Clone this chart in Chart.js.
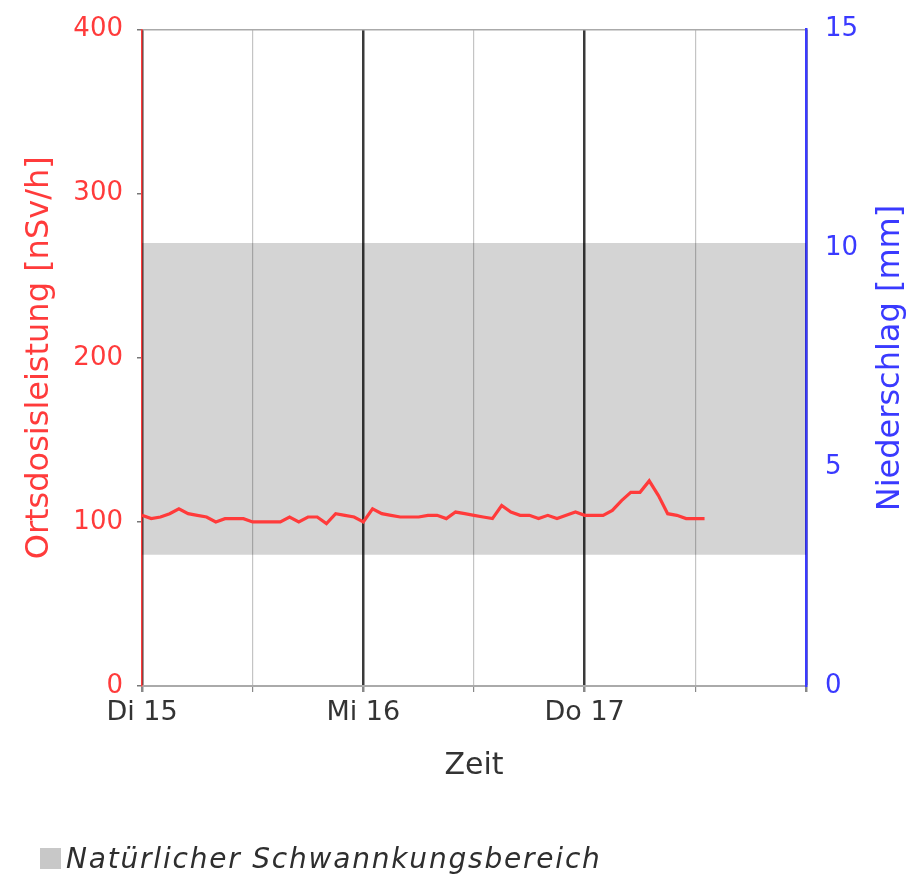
<!DOCTYPE html>
<html>
<head>
<meta charset="utf-8">
<script src="https://cdn.jsdelivr.net/npm/chart.js@4.4.1/dist/chart.umd.min.js"></script>
<style>
  html, body { margin: 0; padding: 0; background: #ffffff; }
  #wrap { position: relative; width: 920px; height: 878px; }
  #legend { position: absolute; left: 40px; top: 842px; display: flex; align-items: center;
    font-family: "DejaVu Sans", sans-serif; font-style: italic; font-size: 28px; letter-spacing: 1.8px; color: #2e2e2e; }
  #legend .box { width: 21px; height: 21px; margin-right: 5px; }
</style>
</head>
<body>
<div id="wrap">
  <canvas id="c" width="920" height="878"></canvas>
  <div id="legend"></div>
</div>
<script>
// ---- Data ----
const dayLabels = ['Di 15', 'Mi 16', 'Do 17'];
const hoursSpan = [0, 72];                 // x-axis range in hours
const doseHours = [0,1,2,3,4,5,6,7,8,9,10,11,12,13,14,15,16,17,18,19,20,21,22,23,24,25,26,27,28,29,30,31,32,33,34,35,36,37,38,39,40,41,42,43,44,45,46,47,48,49,50,51,52,53,54,55,56,57,58,59,60,61];
const doseValues = [104,102,103,105,108,105,104,103,100,102,102,102,100,100,100,100,103,100,103,103,99,105,104,103,100,108,105,104,103,103,103,104,104,102,106,105,104,103,102,110,106,104,104,102,104,102,104,106,104,104,104,107,113,118,118,125,116,105,104,102,102,102];
const bandRange = [80, 270];               // natural fluctuation range [nSv/h]
const leftTicks = [0, 400, 100];           // min, max, step
const rightTicks = [0, 15, 5];
const seriesNames = ['Ortsdosisleistung', 'Natürlicher Schwannkungsbereich'];
const axisTitles = ['Ortsdosisleistung [nSv/h]', 'Niederschlag [mm]', 'Zeit'];

const RED = '#ff3b3b';
const BLUE = '#3a3aff';
const FONT = '"DejaVu Sans", sans-serif';

const doseData = doseHours.map((h, i) => ({ x: h, y: doseValues[i] }));
const bandLow = hoursSpan.map(h => ({ x: h, y: bandRange[0] }));
const bandHigh = hoursSpan.map(h => ({ x: h, y: bandRange[1] }));

const rightTitlePlugin = {
  id: 'rightTitle',
  afterDraw(chart) {
    const ctx = chart.ctx;
    ctx.save();
    ctx.fillStyle = BLUE;
    ctx.font = '32px ' + FONT;
    ctx.textAlign = 'center';
    ctx.textBaseline = 'middle';
    ctx.translate(891, 358);
    ctx.rotate(-Math.PI / 2);
    ctx.fillText(axisTitles[1], 0, 0);
    ctx.restore();
  }
};

const chart = new Chart(document.getElementById('c'), {
  type: 'line',
  data: {
    datasets: [
      { label: seriesNames[0], data: doseData, borderColor: RED, borderWidth: 3.2,
        pointRadius: 0, tension: 0, fill: false, yAxisID: 'y', order: 0 },
      { label: '_low', data: bandLow, borderWidth: 0, borderColor: 'transparent',
        pointRadius: 0, fill: false, yAxisID: 'y', order: 2 },
      { label: seriesNames[1], data: bandHigh, borderWidth: 0, borderColor: 'transparent',
        backgroundColor: 'rgba(0,0,0,0.17)', pointRadius: 0, fill: '-1', yAxisID: 'y', order: 1 }
    ]
  },
  options: {
    responsive: false,
    animation: false,
    layout: { padding: { top: 27, left: 0, right: 0, bottom: 0 } },
    plugins: { legend: { display: false }, tooltip: { enabled: false } },
    scales: {
      x: {
        type: 'linear', min: hoursSpan[0], max: hoursSpan[1],
        afterFit: s => { s.height = 878 - 27 - 659; },
        ticks: { stepSize: 12, autoSkip: false, maxRotation: 0, padding: 5,
          color: '#333', font: { family: FONT, size: 27 },
          callback: v => (v % 24 === 0 && v / 24 < dayLabels.length) ? dayLabels[v / 24] : '' },
        grid: {
          color: c => (c.tick && c.tick.value % 24 === 0) ? '#3a3a3a' : '#c4c4c4',
          lineWidth: c => (c.tick && c.tick.value % 24 === 0) ? 2.5 : 1.2,
          tickColor: '#888', tickLength: 6
        },
        border: { color: '#aaaaaa', width: 2 },
        title: { display: true, text: axisTitles[2], color: '#333',
          font: { family: FONT, size: 30 }, padding: { top: 0, bottom: 94 } }
      },
      y: {
        position: 'left', min: leftTicks[0], max: leftTicks[1],
        afterFit: s => { s.width = 142; },
        ticks: { stepSize: leftTicks[2], color: RED, padding: 14, font: { family: FONT, size: 26 } },
        grid: { color: c => (c.tick && c.tick.value === leftTicks[1]) ? '#aaaaaa' : 'transparent',
          lineWidth: 1.5, tickColor: '#777', tickLength: 5 },
        border: { color: RED, width: 1.5 },
        title: { display: true, text: axisTitles[0], color: RED,
          font: { family: FONT, size: 32 }, padding: { top: 20, bottom: 0 } }
      },
      y2: {
        position: 'right', min: rightTicks[0], max: rightTicks[1],
        afterFit: s => { s.width = 920 - 806; },
        ticks: { stepSize: rightTicks[2], color: BLUE, padding: 14, font: { family: FONT, size: 26 } },
        grid: { drawOnChartArea: false, tickColor: 'transparent', tickLength: 5 },
        border: { color: BLUE, width: 2.5 }
      }
    }
  },
  plugins: [rightTitlePlugin]
});

// HTML legend built from the band dataset
const legendEl = document.getElementById('legend');
const bandDs = chart.data.datasets[2];
const box = document.createElement('span');
box.className = 'box';
box.style.background = '#c8c8c8';
const txt = document.createElement('span');
txt.textContent = bandDs.label;
legendEl.appendChild(box);
legendEl.appendChild(txt);
</script>
</body>
</html>
